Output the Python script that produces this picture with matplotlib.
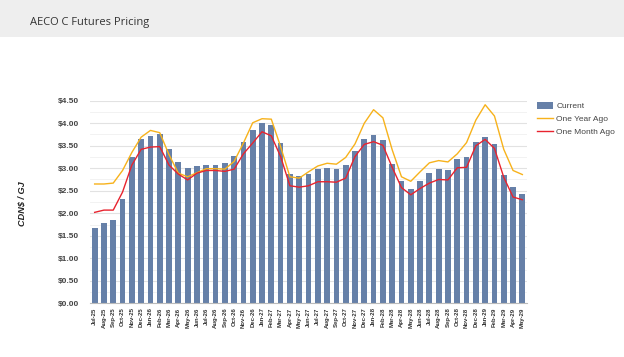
import numpy as np
import matplotlib
matplotlib.use('Agg')
import matplotlib.pyplot as plt
from matplotlib.patches import Rectangle
from matplotlib.ticker import MultipleLocator

months = ['Jul-25', 'Aug-25', 'Sep-25', 'Oct-25', 'Nov-25', 'Dec-25',
          'Jan-26', 'Feb-26', 'Mar-26', 'Apr-26', 'May-26', 'Jun-26',
          'Jul-26', 'Aug-26', 'Sep-26', 'Oct-26', 'Nov-26', 'Dec-26',
          'Jan-27', 'Feb-27', 'Mar-27', 'Apr-27', 'May-27', 'Jun-27',
          'Jul-27', 'Aug-27', 'Sep-27', 'Oct-27', 'Nov-27', 'Dec-27',
          'Jan-28', 'Feb-28', 'Mar-28', 'Apr-28', 'May-28', 'Jun-28',
          'Jul-28', 'Aug-28', 'Sep-28', 'Oct-28', 'Nov-28', 'Dec-28',
          'Jan-29', 'Feb-29', 'Mar-29', 'Apr-29', 'May-29']

current = [1.67, 1.79, 1.84, 2.32, 3.24, 3.64, 3.72, 3.76, 3.42, 3.14, 3.01, 3.04,
           3.07, 3.08, 3.12, 3.28, 3.58, 3.84, 4.01, 3.96, 3.56, 2.88, 2.82, 2.88,
           2.98, 3.00, 2.98, 3.07, 3.38, 3.65, 3.74, 3.63, 3.10, 2.72, 2.54, 2.72,
           2.89, 2.98, 2.96, 3.21, 3.24, 3.58, 3.70, 3.54, 2.86, 2.58, 2.43]

year_ago = [2.65, 2.65, 2.67, 2.95, 3.35, 3.69, 3.84, 3.79, 3.30, 2.89, 2.81, 2.90,
            2.99, 2.99, 2.98, 3.15, 3.56, 4.01, 4.10, 4.09, 3.48, 2.81, 2.78, 2.92,
            3.05, 3.11, 3.09, 3.24, 3.54, 4.00, 4.30, 4.12, 3.41, 2.81, 2.71, 2.92,
            3.12, 3.17, 3.14, 3.32, 3.57, 4.07, 4.41, 4.16, 3.42, 2.95, 2.86]

month_ago = [2.02, 2.07, 2.07, 2.47, 3.07, 3.42, 3.47, 3.48, 3.07, 2.87, 2.74, 2.89,
             2.95, 2.95, 2.93, 2.98, 3.32, 3.56, 3.81, 3.72, 3.26, 2.61, 2.58, 2.61,
             2.70, 2.70, 2.69, 2.78, 3.26, 3.53, 3.59, 3.51, 3.02, 2.57, 2.41, 2.55,
             2.67, 2.75, 2.74, 3.01, 3.02, 3.50, 3.64, 3.44, 2.80, 2.36, 2.30]

plt.rcParams['font.family'] = ['Liberation Sans', 'DejaVu Sans']

fig = plt.figure(figsize=(6.24, 3.57), dpi=100)

# grey header band
fig.patches.append(Rectangle((0, 1 - 37 / 357), 1, 37 / 357, transform=fig.transFigure,
                             facecolor='#eeeeee', edgecolor='none', zorder=0))
fig.text(30 / 624, 1 - 23 / 357, 'AECO C Futures Pricing', family='Open Sans',
         fontsize=8, color='#333333', va='center', ha='left')

ax = fig.add_axes([90 / 624, 53.7 / 357, 437 / 624, 202.6 / 357])
x = np.arange(len(months))

bars = ax.bar(x, current, width=0.62, color='#6680a8', label='Current', zorder=2)
l1, = ax.plot(x, year_ago, color='#f7b21b', lw=1.0, label='One Year Ago', zorder=3)
l2, = ax.plot(x, month_ago, color='#e8232e', lw=1.0, label='One Month Ago', zorder=4)

ax.set_xlim(-0.5, len(months) - 0.5)
ax.set_ylim(0, 4.5)
ax.yaxis.set_major_locator(MultipleLocator(0.5))
ax.yaxis.set_minor_locator(MultipleLocator(0.25))
ax.yaxis.set_major_formatter(lambda v, p: '${:.2f}'.format(v))
ax.grid(axis='y', which='major', color='#e2e2e2', lw=0.8, zorder=0)
ax.grid(axis='y', which='minor', color='#f0f0f0', lw=0.6, zorder=0)
ax.set_axisbelow(True)

ax.set_xticks(x)
ax.set_xticklabels(months, rotation=90, fontsize=4.3, fontweight='bold', color='#333333')
ax.tick_params(axis='x', length=0, pad=3)
ax.tick_params(axis='y', which='both', length=0, pad=8, labelsize=6, labelcolor='#444444')
for lbl in ax.get_yticklabels():
    lbl.set_fontweight('bold')

for s in ['top', 'right', 'left']:
    ax.spines[s].set_visible(False)
ax.spines['bottom'].set_color('#bbbbbb')
ax.spines['bottom'].set_linewidth(0.8)

fig.text(21.5 / 624, 1 - 204 / 357, 'CDN$ / GJ', rotation=90, fontsize=6.6,
         fontweight='bold', fontstyle='italic', color='#222222', va='center', ha='center')

leg = ax.legend([bars, l1, l2], ['Current', 'One Year Ago', 'One Month Ago'],
                loc='upper left', bbox_to_anchor=(533 / 624, 1 - 98 / 357),
                bbox_transform=fig.transFigure, frameon=False, fontsize=6,
                handlelength=1.9, handleheight=0.8, labelspacing=0.55, handletextpad=0.4,
                borderpad=0)
for t in leg.get_texts():
    t.set_color('#444444')

fig.savefig('out.png', dpi=100)
